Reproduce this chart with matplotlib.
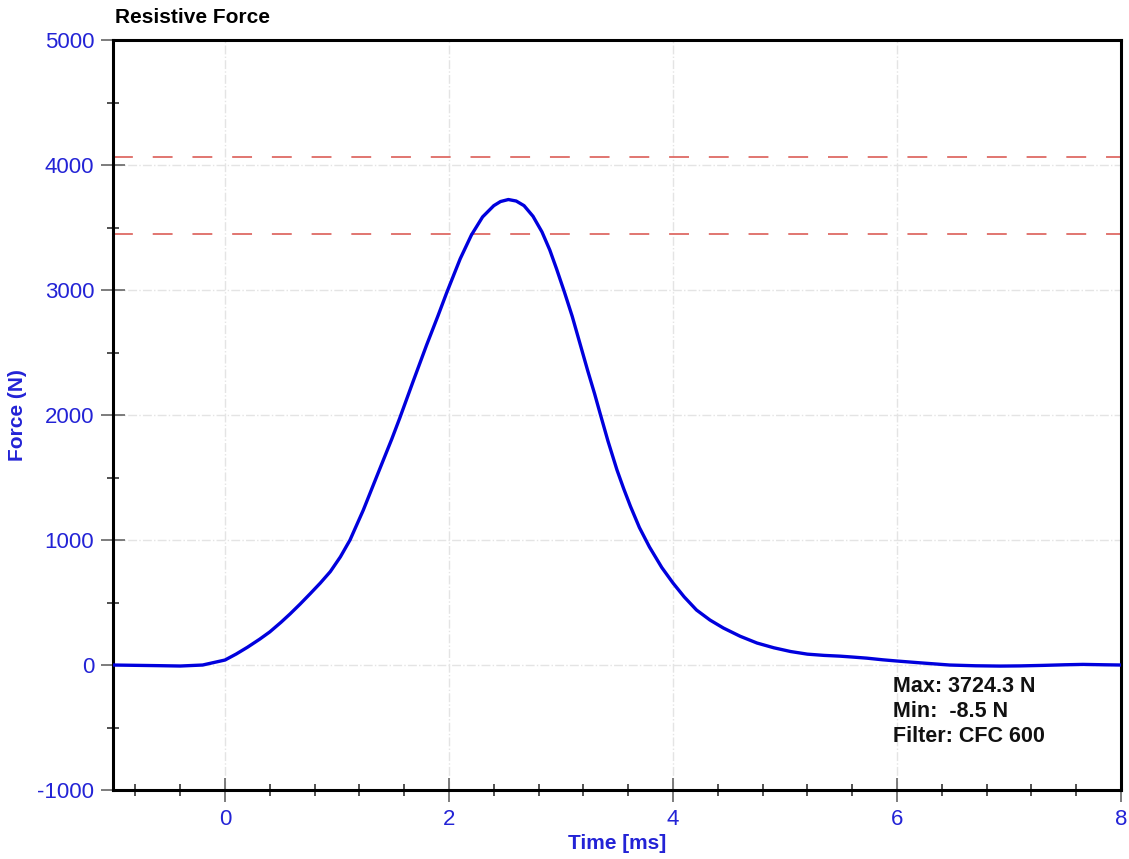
import matplotlib
matplotlib.use("Agg")
import matplotlib.pyplot as plt
from matplotlib.ticker import MultipleLocator

plt.rcParams['font.family'] = ['Liberation Sans', 'DejaVu Sans']
plt.rcParams['axes.unicode_minus'] = False

# force trace (ms, N)
time_ms = [-1.0, -0.6, -0.4, -0.2, 0.0, 0.1, 0.2, 0.31, 0.4, 0.5, 0.58, 0.67,
           0.76, 0.85, 0.94, 1.03, 1.116, 1.235, 1.354, 1.49, 1.56, 1.68, 1.8,
           1.9, 1.98, 2.1, 2.2, 2.3, 2.4, 2.46, 2.53, 2.6, 2.67, 2.75, 2.83,
           2.9, 2.96, 3.03, 3.1, 3.17, 3.24, 3.3, 3.35, 3.42, 3.5, 3.56, 3.62,
           3.7, 3.79, 3.9, 4.0, 4.1, 4.21, 4.33, 4.45, 4.6, 4.75, 4.9, 5.05,
           5.2, 5.35, 5.49, 5.6, 5.73, 5.87, 6.0, 6.2, 6.47, 6.7, 6.92, 7.1,
           7.3, 7.5, 7.66, 7.85, 8.0]
force_n = [0, -5, -8, 0, 40, 88, 142, 207, 265, 342, 408, 487,
           570, 655, 747, 865, 1000, 1240, 1507, 1810, 1975, 2270, 2560,
           2790, 2980, 3250, 3440, 3585, 3675, 3708, 3724, 3712, 3675, 3590, 3465,
           3320, 3170, 2985, 2790, 2570, 2350, 2170, 2010, 1790, 1560, 1410, 1270,
           1100, 944, 780, 656, 545, 440, 360, 296, 230, 176, 138, 108,
           87, 77, 71, 64, 55, 42, 32, 18, 0, -6, -8.5, -7,
           -3, 2, 5, 2, 0]
limit_lines = [4065, 3450]
stats = ["Max: 3724.3 N", "Min:  -8.5 N", "Filter: CFC 600"]

blue_txt = '#2323d6'

fig = plt.figure(figsize=(11.29, 8.59), dpi=100)
ax = fig.add_axes([0.1001, 0.0803, 0.8928, 0.8731])

for y in limit_lines:
    ax.axhline(y, color='#de6a64', lw=1.3, dashes=(11, 11), zorder=2)

ax.plot(time_ms, force_n, color='#0000dd', lw=2.4, zorder=3,
        solid_joinstyle='round')

ax.set_xlim(-1, 8)
ax.set_ylim(-1000, 5000)
ax.xaxis.set_major_locator(MultipleLocator(2))
ax.xaxis.set_minor_locator(MultipleLocator(0.4))
ax.yaxis.set_major_locator(MultipleLocator(1000))
ax.yaxis.set_minor_locator(MultipleLocator(500))

ax.grid(True, which='major', color='#e4e4e4', lw=1.0, ls='-.', zorder=0)

for s in ax.spines.values():
    s.set_linewidth(2.2)
    s.set_color('black')

ax.tick_params(which='major', direction='inout', length=17, width=1.2,
               color='#666666', labelsize=16, labelcolor=blue_txt, pad=5)
ax.tick_params(which='minor', direction='inout', length=8.5, width=1.2,
               color='#333333')

ax.set_xlabel('Time [ms]', fontsize=15, fontweight='bold', color=blue_txt)
ax.set_ylabel('Force (N)', fontsize=15, fontweight='bold', color=blue_txt)
ax.xaxis.set_label_coords(0.5, -0.059)
ax.yaxis.set_label_coords(-0.085, 0.5)

fig.text(0.102, 0.969, 'Resistive Force', fontsize=15, fontweight='bold',
         color='black', va='bottom', ha='left')

for i, line in enumerate(stats):
    ax.text(5.96, -170 - i * 200, line, fontsize=15.5, fontweight='bold',
            color='#111111', va='center', ha='left')

fig.savefig('out.png', dpi=100)
